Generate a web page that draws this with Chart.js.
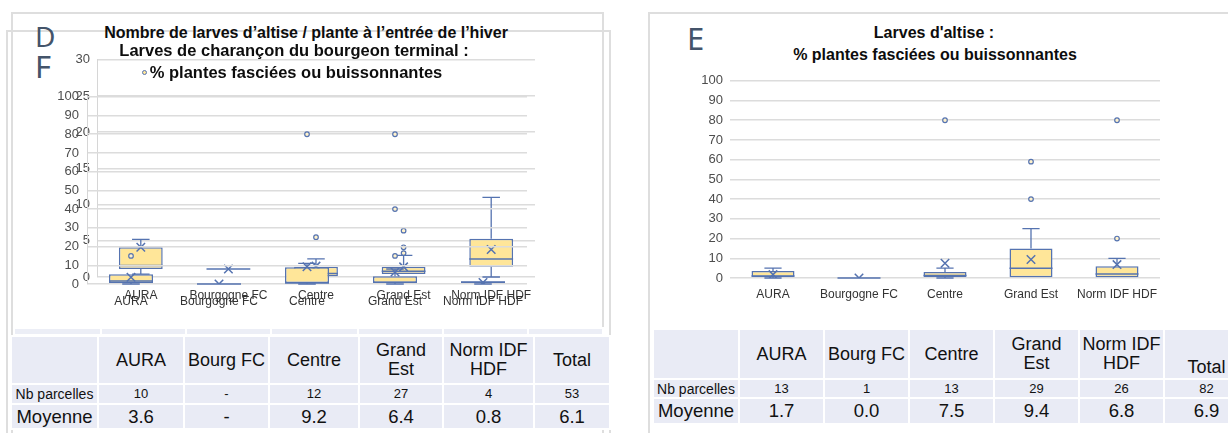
<!DOCTYPE html>
<html lang="fr">
<head>
<meta charset="utf-8">
<script src="https://cdn.jsdelivr.net/npm/chart.js@4.4.1/dist/chart.umd.min.js"></script>
<style>
  body { margin: 0; width: 1228px; height: 433px; overflow: hidden; position: relative; background: #fff;
         font-family: "Liberation Sans", Arial, sans-serif; }
  .frame { position: absolute; box-sizing: border-box; border: 2px solid #dedede; border-bottom: none; }
  .letter { position: absolute; font-family: "Noto Sans", sans-serif; color: #44546a; line-height: 1; }
  .title { position: absolute; text-align: center; font-weight: bold; color: #0d0d0d; font-size: 16px;
           line-height: 18px; white-space: nowrap; }
  canvas { position: absolute; }
  table { position: absolute; border-collapse: collapse; table-layout: fixed; }
  td { background: #e9ebf5; border: 2px solid #fff; padding: 0; text-align: center; color: #111;
       white-space: pre-line; overflow: hidden; }
  .dot { display: inline-block; width: 3px; height: 3px; border: 1px solid #5573b0; background: #ffe699;
         border-radius: 50%; vertical-align: middle; margin-right: 3px; position: relative; top: -1px; }
</style>
</head>
<body>

<div class="frame" style="left:11px; top:12px; width:593px; height:430px;"></div>
<div class="frame" style="left:6px; top:30px; width:605px; height:410px;"></div>
<div class="frame" style="left:648px; top:12px; width:700px; height:430px; border-right:none;"></div>

<div class="letter" style="left:35px; top:22px; font-size:28px;">D</div>
<div class="letter" style="left:35px; top:51px; font-size:31px;">F</div>
<div class="letter" style="left:687px; top:23px; font-size:31px;">E</div>

<canvas id="chartD" width="498" height="262" style="left:47px; top:45px;"></canvas>
<canvas id="chartF" width="500" height="233" style="left:37px; top:81px;"></canvas>
<canvas id="chartE" width="490" height="242" style="left:680px; top:66px;"></canvas>

<div class="title" style="left:56px; top:24px; width:500px; font-size:16px;">Nombre de larves d’altise / plante à l’entrée de l’hiver</div>
<div class="title" style="left:44px; top:41px; width:500px; font-size:16.5px;">Larves de charançon du bourgeon terminal :</div>
<div class="title" style="left:42px; top:63px; width:500px; font-size:16.5px;"><span class="dot"></span>% plantes fasciées ou buissonnantes</div>
<div class="title" style="left:684px; top:24px; width:500px;">Larves d'altise :</div>
<div class="title" style="left:685px; top:46px; width:500px;">% plantes fasciées ou buissonnantes</div>

<table id="ghostF" style="left:13px; top:327px;"></table>
<table id="tableF" style="left:10px; top:335px;"></table>
<table id="tableE" style="left:652px; top:328px;"></table>

<script>
const categories = ["AURA", "Bourgogne FC", "Centre", "Grand Est", "Norm IDF HDF"];

// D : larves d'altise / plante (0-30)
const dMin = [0.4, 1.1, 0.1, 0.4, 0];
const dQ1 = [1.1, 1.1, 0.1, 0.4, 1.4];
const dMedian = [1.6, 1.1, 0.5, 0.8, 2.5];
const dQ3 = [4.1, 1.1, 1.4, 1.4, 5.3];
const dMax = [5.2, 1.1, 2.5, 3.0, 11.0];
const dMean = [4.1, 1.1, 1.5, 1.4, 3.8];
const dOutliers = [["Centre", 5.5], ["Grand Est", 6.4], ["Grand Est", 4.1], ["Grand Est", 3.3]];

// F : charancon, % plantes fasciees (0-100)
const fMin = [0, 0, 0, 0, 0];
const fQ1 = [0.5, 0, 0.5, 0.5, 0.5];
const fMedian = [1.6, 0, 0.5, 1, 1];
const fQ3 = [5.2, 0, 8.9, 4.2, 1.5];
const fMax = [5.2, 0, 11, 8, 1.5];
const fMean = [3.6, 0, 9.2, 6.4, 0.8];
const fOutliers = [["AURA", 15], ["Centre", 80], ["Grand Est", 80], ["Grand Est", 40], ["Grand Est", 15]];

// E : larves d'altise, % plantes fasciees (0-100)
const eMin = [0, 0, 0, 0, 0];
const eQ1 = [0.5, 0, 0.5, 0, 0];
const eMedian = [1, 0, 1.3, 5, 2];
const eQ3 = [3.5, 0, 3, 15, 6];
const eMax = [5, 0, 5, 25, 10];
const eMean = [1.7, 0, 7.5, 9.4, 6.8];
const eOutliers = [["Centre", 80], ["Grand Est", 59], ["Grand Est", 40], ["Norm IDF HDF", 80], ["Norm IDF HDF", 20]];

// tables
const tableCols = ["AURA", "Bourg FC", "Centre", "Grand\nEst", "Norm IDF\nHDF", "Total"];
const fNb = ["10", "-", "12", "27", "4", "53"];
const fMoyenne = ["3.6", "-", "9.2", "6.4", "0.8", "6.1"];
const eNb = ["13", "1", "13", "29", "26", "82"];
const eMoyenne = ["1.7", "0.0", "7.5", "9.4", "6.8", "6.9"];

const font = "'Liberation Sans', Arial, sans-serif";
const boxFill = "#ffe699";
const boxLine = "#5573b0";

function whiskerPlugin(s) {
  return {
    id: "whiskers",
    beforeDatasetsDraw(chart) {
      const { ctx, scales: { x, y } } = chart;
      const half = (x.getPixelForValue(1) - x.getPixelForValue(0)) / 4;
      ctx.save();
      ctx.strokeStyle = boxLine;
      ctx.lineWidth = 1.3;
      categories.forEach((c, i) => {
        const cx = x.getPixelForValue(i);
        ctx.beginPath();
        if (s.max[i] > s.q3[i]) {
          ctx.moveTo(cx, y.getPixelForValue(s.q3[i]));
          ctx.lineTo(cx, y.getPixelForValue(s.max[i]));
          ctx.moveTo(cx - half * 0.4, y.getPixelForValue(s.max[i]));
          ctx.lineTo(cx + half * 0.4, y.getPixelForValue(s.max[i]));
        }
        if (s.min[i] < s.q1[i]) {
          ctx.moveTo(cx, y.getPixelForValue(s.q1[i]));
          ctx.lineTo(cx, y.getPixelForValue(s.min[i]));
          ctx.moveTo(cx - half * 0.4, y.getPixelForValue(s.min[i]));
          ctx.lineTo(cx + half * 0.4, y.getPixelForValue(s.min[i]));
        }
        ctx.stroke();
      });
      ctx.restore();
    },
    afterDatasetsDraw(chart) {
      const { ctx, scales: { x, y } } = chart;
      const half = (x.getPixelForValue(1) - x.getPixelForValue(0)) / 4;
      ctx.save();
      ctx.strokeStyle = boxLine;
      ctx.lineWidth = 1.5;
      s.median.forEach((m, i) => {
        const cx = x.getPixelForValue(i);
        const py = y.getPixelForValue(m);
        ctx.beginPath();
        ctx.moveTo(cx - half, py);
        ctx.lineTo(cx + half, py);
        ctx.stroke();
      });
      ctx.restore();
    },
  };
}

function boxChart(id, s, yMax, yStep, look) {
  let ctx = document.getElementById(id).getContext("2d");
  return new Chart(ctx, {
    type: "bar",
    data: {
      labels: categories,
      datasets: [
        {
          type: "line",
          data: s.mean,
          showLine: false,
          pointStyle: "crossRot",
          pointRadius: 6,
          pointBorderWidth: 1.5,
          pointBorderColor: boxLine,
          order: 0,
        },
        {
          type: "line",
          data: s.outliers.map((o) => ({ x: o[0], y: o[1] })),
          showLine: false,
          pointStyle: "circle",
          pointRadius: 2.3,
          pointBorderWidth: 1.2,
          pointBorderColor: boxLine,
          pointBackgroundColor: "#fff2cc",
          order: 0,
        },
        {
          data: s.q1.map((v, i) => [v, s.q3[i]]),
          backgroundColor: boxFill,
          borderColor: boxLine,
          borderWidth: 1.5,
          borderSkipped: false,
          barPercentage: 0.5,
          categoryPercentage: 1,
          order: 1,
        },
      ],
    },
    options: {
      responsive: false,
      animation: false,
      layout: { padding: { top: 12, right: 10, left: 0, bottom: 0 } },
      plugins: { legend: { display: false }, tooltip: { enabled: false } },
      scales: {
        x: {
          grid: { display: false, drawTicks: false },
          border: { display: false },
          ticks: { padding: look.xPad, color: "#333333", font: { size: 12, family: font }, autoSkip: false, maxRotation: 0 },
          afterFit: (a) => { a.height = 30; },
        },
        y: {
          min: 0,
          max: yMax,
          ticks: { stepSize: yStep, padding: look.yPad, color: "#4d4d4d", font: { size: 13, family: font } },
          grid: { color: "#dcdcdc", lineWidth: 1.5, drawTicks: false },
          border: { display: look.axisLine, color: "#d6d6d6" },
          afterFit: (a) => { a.width = 50; },
        },
      },
    },
    plugins: [whiskerPlugin(s)],
  });
}

boxChart("chartD", { min: dMin, q1: dQ1, median: dMedian, q3: dQ3, max: dMax, mean: dMean, outliers: dOutliers },
  30, 5, { xPad: 11, yPad: 7, axisLine: true });
boxChart("chartF", { min: fMin, q1: fQ1, median: fMedian, q3: fQ3, max: fMax, mean: fMean, outliers: fOutliers },
  100, 10, { xPad: 10, yPad: 8, axisLine: true });
boxChart("chartE", { min: eMin, q1: eQ1, median: eMedian, q3: eQ3, max: eMax, mean: eMean, outliers: eOutliers },
  100, 10, { xPad: 9, yPad: 7, axisLine: false });

function buildTable(id, widths, heights, rows, cellStyle) {
  const table = document.getElementById(id);
  let total = widths.reduce((a, b) => a + b, 0);
  table.style.width = total + "px";
  const cg = document.createElement("colgroup");
  widths.forEach((w) => {
    const col = document.createElement("col");
    col.style.width = w + "px";
    cg.appendChild(col);
  });
  table.appendChild(cg);
  rows.forEach((row, r) => {
    const tr = document.createElement("tr");
    tr.style.height = heights[r] + "px";
    row.forEach((txt, c) => {
      const td = document.createElement("td");
      td.textContent = txt;
      Object.assign(td.style, cellStyle(r, c));
      tr.appendChild(td);
    });
    table.appendChild(tr);
  });
}

function styleFor(rightTable) {
  return (r, c) => {
    if (r === 0) {
      const st = { fontSize: "18px", lineHeight: "19px", verticalAlign: "middle" };
      if (rightTable && c === 6) { st.verticalAlign = "bottom"; st.paddingBottom = "1px"; }
      return st;
    }
    if (r === 1) return { fontSize: c === 0 ? "14px" : "13px", lineHeight: "16px" };
    return { fontSize: "18.5px", lineHeight: "20px" };
  };
}

buildTable("ghostF", [87, 85, 85, 87, 85, 85, 75], [7], [["", "", "", "", "", "", ""]],
  () => ({ background: "#eceef6", fontSize: "1px", lineHeight: "1px" }));
buildTable("tableF", [87, 86, 85, 90, 84, 91, 76], [48, 20, 25],
  [[""].concat(tableCols), ["Nb parcelles"].concat(fNb), ["Moyenne"].concat(fMoyenne)], styleFor(false));
buildTable("tableE", [86, 85, 85, 85, 85, 85, 85], [50, 19, 26],
  [[""].concat(tableCols), ["Nb parcelles"].concat(eNb), ["Moyenne"].concat(eMoyenne)], styleFor(true));
</script>
</body>
</html>
